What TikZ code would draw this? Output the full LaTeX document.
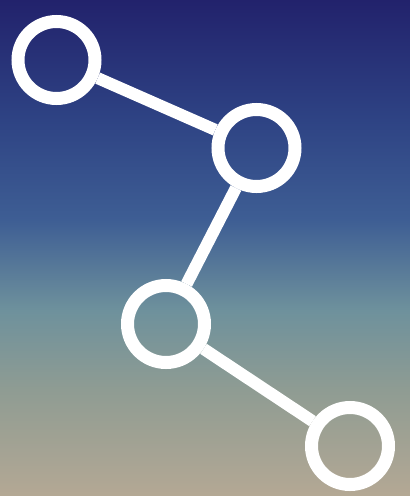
\documentclass[tikz,border=0pt]{standalone}
\usetikzlibrary{positioning}
\definecolor{SkyTop}{RGB}{34,34,108}
\definecolor{SkyUpper}{RGB}{46,67,132}
\definecolor{SkyMid}{RGB}{62,94,148}
\definecolor{SkyTeal}{RGB}{110,145,156}
\definecolor{SkyLow}{RGB}{143,156,147}
\definecolor{SkyBottom}{RGB}{180,168,148}

\begin{document}
\begin{tikzpicture}[
    x=1pt, y=-1pt,
    ring/.style={circle, draw=white, line width=13pt, minimum size=77pt,
        inner sep=0pt},
    link/.style={draw=white, line width=12pt},
]

% Fondo en degradado, por tramos
\shade[top color=SkyTop, bottom color=SkyUpper] (0,0) rectangle (410,120);
\shade[top color=SkyUpper, bottom color=SkyMid] (0,120) rectangle (410,220);
\shade[top color=SkyMid, bottom color=SkyTeal] (0,220) rectangle (410,310);
\shade[top color=SkyTeal, bottom color=SkyLow] (0,310) rectangle (410,390);
\shade[top color=SkyLow, bottom color=SkyBottom] (0,390) rectangle (410,496);
\useasboundingbox (0,0) rectangle (410,496);

% Anillos
\foreach \x/\y [count=\i] in {56.5/60, 256.5/148, 166/324, 350/446}{
    \node[ring] (n\i) at (\x,\y) {};
}

% Uniones entre anillos
\foreach \a/\b in {1/2, 2/3, 3/4}{
    \draw[link] (n\a) -- (n\b);
}

\end{tikzpicture}
\end{document}
